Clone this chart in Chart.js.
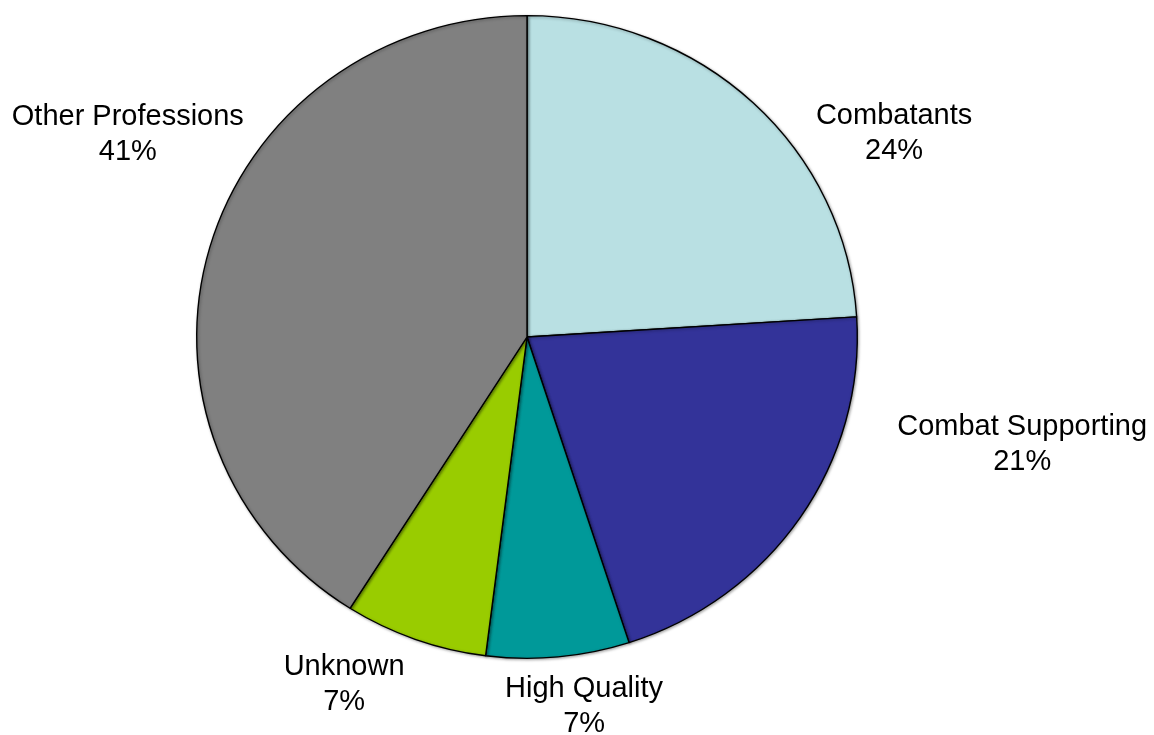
<!DOCTYPE html>
<html>
<head>
<meta charset="utf-8">
<title>Professions</title>
<script src="https://cdn.jsdelivr.net/npm/chart.js@4/dist/chart.umd.min.js"></script>
<style>
    html, body { margin: 0; padding: 0; background: #ffffff; }
    #wrap { width: 1154px; height: 735px; }
</style>
</head>
<body>
<div id="wrap"><canvas id="pie" width="1154" height="735"></canvas></div>
<script>
// datos del gráfico
const categories = ['Combatants', 'Combat Supporting', 'High Quality', 'Unknown', 'Other Professions'];
const shares = [24, 21, 7, 7, 41];
const sliceColors = ['#B9E0E3', '#333399', '#009999', '#99CC00', '#808080'];

// desplazamiento de cada etiqueta desde el borde del sector (px)
const labelOffsets = [[141, 31], [222, -73], [26, 50], [-71, 45], [-82, -113]];

// la tarta es un poco más ancha que alta
const squashY = 322 / 331;
const labelFont = '29px "Liberation Sans", Arial, sans-serif';
const lineGap = 35;

const ellipsePlugin = {
    id: 'ellipse',
    beforeDatasetsDraw(chart) {
        const arc = chart.getDatasetMeta(0).data[0];
        const ctx = chart.ctx;
        ctx.save();
        ctx.translate(arc.x, arc.y);
        ctx.scale(1, squashY);
        ctx.translate(-arc.x, -arc.y);
        ctx.shadowColor = 'rgba(0,0,0,0.35)';
        ctx.shadowBlur = 3;
        ctx.shadowOffsetX = 1;
        ctx.shadowOffsetY = 1;
    },
    afterDatasetsDraw(chart) {
        chart.ctx.restore();
    }
};

const labelsPlugin = {
    id: 'sliceLabels',
    afterDraw(chart) {
        const ctx = chart.ctx;
        const meta = chart.getDatasetMeta(0);
        ctx.save();
        ctx.font = labelFont;
        ctx.fillStyle = '#000';
        ctx.textAlign = 'center';
        ctx.textBaseline = 'middle';
        meta.data.forEach((arc, i) => {
            const p = arc.getProps(['x', 'y', 'startAngle', 'endAngle', 'outerRadius'], true);
            const mid = (p.startAngle + p.endAngle) / 2;
            const ex = p.x + Math.cos(mid) * p.outerRadius;
            const ey = p.y + Math.sin(mid) * p.outerRadius * squashY;
            const cx = ex + labelOffsets[i][0];
            const cy = ey + labelOffsets[i][1];
            ctx.fillText(categories[i], cx, cy - lineGap / 2);
            ctx.fillText(shares[i] + '%', cx, cy + lineGap / 2);
        });
        ctx.restore();
    }
};

new Chart(document.getElementById('pie'), {
    type: 'pie',
    data: {
        labels: categories,
        datasets: [{
            data: shares,
            backgroundColor: sliceColors,
            borderColor: '#000000',
            borderWidth: 1.4
        }]
    },
    options: {
        responsive: false,
        animation: false,
        layout: { padding: { left: 196, right: 296, top: 6, bottom: 67 } },
        plugins: {
            legend: { display: false },
            tooltip: { enabled: false }
        }
    },
    plugins: [ellipsePlugin, labelsPlugin]
});
</script>
</body>
</html>
